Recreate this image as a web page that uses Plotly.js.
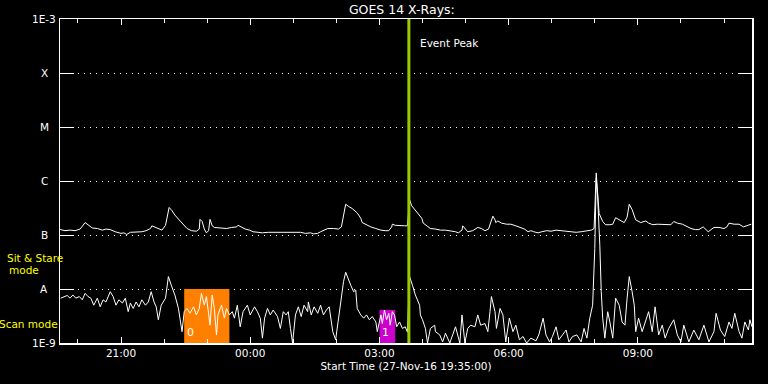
<!DOCTYPE html>
<html>
<head>
<meta charset="utf-8">
<script src="https://cdn.plot.ly/plotly-3.0.1.min.js"></script>
<style>html,body{margin:0;padding:0;background:#000;}#chart{width:768px;height:384px;}</style>
</head>
<body>
<div id="chart"></div>
<script>
// Start of the plot: 27-Nov-16 19:35:00 ; times below are minutes after start
const startTime = Date.UTC(2016, 10, 27, 19, 35, 0);
const endMinutes = 964;

// GOES 14 long channel (1-8 A), log10 of flux in W/m^2
const longT = [0,1,7,14,21,28,35,39,45,52,59,64,70,77,81,85,89,93,98,103,109,114,120,126,128,133,138,142,147,149,152,156,160,166,172,177,183,190,194,195,198,201,204,207,209,212,215,223,232,239,246,248,253,258,264,269,276,282,290,297,306,313,320,325,335,342,349,353,359,363,367,373,381,388,392,395,398,402,407,414,419,421,427,433,440,447,453,458,462,463,467,474,480,484,487,490,493,497,500,504,506,511,516,523,530,537,544,551,555,560,561,565,568,575,582,587,592,597,601,603,606,607,610,615,622,628,635,642,647,652,656,660,666,671,678,684,691,698,705,712,719,726,733,740,744,746,747,749,751,756,760,766,770,774,780,786,790,793,797,802,809,816,820,826,832,837,844,851,855,860,867,873,879,885,890,896,900,903,907,911,918,925,929,932,939,946,952,957,963];
const longLog = [-6.89,-6.90,-6.92,-6.91,-6.92,-6.89,-6.77,-6.81,-6.87,-6.88,-6.91,-6.89,-6.90,-6.94,-6.95,-6.97,-6.96,-6.99,-6.95,-6.95,-6.94,-6.94,-6.92,-6.88,-6.83,-6.86,-6.90,-6.91,-6.82,-6.67,-6.49,-6.55,-6.63,-6.72,-6.80,-6.88,-6.92,-6.93,-6.89,-6.71,-6.75,-6.89,-6.96,-6.92,-6.71,-6.83,-6.86,-6.87,-6.88,-6.86,-6.85,-6.82,-6.86,-6.89,-6.91,-6.94,-6.95,-6.96,-6.95,-6.95,-6.96,-6.95,-6.95,-6.96,-6.95,-6.97,-6.96,-6.98,-6.97,-6.94,-6.91,-6.88,-6.88,-6.89,-6.85,-6.63,-6.43,-6.47,-6.51,-6.59,-6.69,-6.77,-6.81,-6.85,-6.88,-6.91,-6.92,-6.92,-6.85,-6.80,-6.82,-6.83,-6.83,-6.83,-6.35,-6.46,-6.51,-6.57,-6.61,-6.69,-6.78,-6.83,-6.88,-6.89,-6.91,-6.91,-6.92,-6.94,-6.96,-6.91,-6.83,-6.89,-6.94,-6.92,-6.86,-6.88,-6.92,-6.89,-6.74,-6.65,-6.72,-6.77,-6.74,-6.78,-6.80,-6.80,-6.83,-6.86,-6.89,-6.94,-6.92,-6.94,-6.96,-6.94,-6.92,-6.93,-6.91,-6.92,-6.93,-6.94,-6.95,-6.94,-6.93,-6.91,-6.88,-6.35,-5.85,-6.23,-6.60,-6.75,-6.81,-6.81,-6.80,-6.68,-6.72,-6.77,-6.67,-6.43,-6.53,-6.72,-6.77,-6.74,-6.78,-6.81,-6.80,-6.80,-6.80,-6.81,-6.75,-6.78,-6.80,-6.84,-6.88,-6.90,-6.90,-6.85,-6.91,-6.94,-6.90,-6.86,-6.86,-6.88,-6.85,-6.78,-6.80,-6.80,-6.85,-6.83,-6.80];

// GOES 14 short channel (0.5-4 A), log10 of flux in W/m^2
const shortT = [1,6,10,14,18,22,27,31,35,39,43,47,52,56,60,64,70,74,78,82,87,91,95,98,102,106,110,114,119,123,127,131,134,137,141,147,151,155,160,165,167,170,173,177,181,186,190,194,197,201,204,207,209,212,215,218,220,225,229,232,236,240,243,247,251,255,261,265,271,275,279,282,285,289,293,297,303,307,311,315,318,321,324,328,332,336,340,345,346,350,354,359,363,367,371,375,380,384,387,389,392,395,398,400,405,409,412,414,419,423,427,431,435,440,442,447,449,452,455,458,460,463,466,469,473,477,481,484,487,491,495,501,502,505,509,512,516,522,523,529,533,537,543,547,551,557,560,564,568,572,578,582,586,592,596,599,601,606,608,613,617,621,626,631,635,640,645,650,656,663,667,673,677,682,686,691,695,700,705,709,714,720,726,730,734,738,742,745,747,749,751,752,754,756,759,763,766,770,774,779,783,787,790,793,797,800,802,806,811,815,820,825,829,834,839,843,848,855,860,865,869,876,883,890,897,904,911,914,920,926,932,936,940,946,950,954,959,961,964];
const shortLog = [-8.17,-8.14,-8.12,-8.17,-8.11,-8.17,-8.14,-8.20,-8.08,-8.14,-8.17,-8.30,-8.17,-8.33,-8.20,-8.24,-8.05,-8.14,-8.30,-8.20,-8.26,-8.17,-8.42,-8.26,-8.36,-8.24,-8.33,-8.20,-8.30,-8.24,-8.05,-8.24,-8.33,-8.57,-8.30,-8.17,-7.77,-7.93,-8.11,-8.36,-8.57,-8.79,-8.42,-8.36,-8.45,-8.33,-8.48,-8.36,-8.08,-8.30,-8.14,-8.42,-8.67,-8.11,-8.36,-8.85,-8.48,-8.30,-8.54,-8.36,-8.48,-8.42,-8.54,-8.30,-8.70,-8.42,-8.30,-8.48,-8.33,-8.42,-8.54,-8.91,-8.54,-8.36,-8.48,-8.39,-8.51,-8.73,-8.42,-8.48,-8.42,-8.73,-9.00,-8.48,-8.33,-8.51,-8.30,-8.42,-8.24,-8.48,-8.33,-8.45,-8.30,-8.48,-8.39,-8.33,-8.79,-8.94,-8.67,-8.42,-8.17,-7.86,-7.69,-7.77,-7.93,-8.05,-8.02,-8.36,-8.48,-8.54,-8.48,-8.57,-8.51,-8.61,-8.79,-8.48,-8.64,-8.39,-8.57,-8.45,-8.67,-8.42,-8.48,-8.70,-8.61,-8.73,-8.70,-8.80,-7.77,-7.93,-8.11,-8.30,-8.48,-8.57,-8.73,-9.00,-8.73,-8.67,-8.79,-8.85,-8.98,-8.82,-9.00,-8.85,-8.70,-9.00,-8.48,-9.00,-8.73,-8.67,-8.70,-8.48,-8.67,-8.64,-8.79,-8.42,-8.14,-8.42,-8.73,-8.36,-8.48,-8.98,-8.54,-8.79,-8.67,-8.94,-8.88,-9.00,-8.91,-8.96,-8.85,-8.54,-8.85,-8.98,-8.88,-8.70,-8.94,-8.85,-8.76,-8.98,-8.88,-8.85,-8.98,-8.73,-8.91,-8.54,-8.30,-7.25,-5.95,-6.30,-6.80,-7.19,-8.05,-8.54,-8.91,-8.42,-8.61,-8.91,-8.17,-8.30,-8.61,-8.67,-8.17,-7.77,-8.05,-8.30,-8.79,-8.54,-8.79,-8.61,-8.42,-8.79,-8.33,-8.85,-8.67,-8.91,-8.73,-8.57,-8.85,-8.98,-8.67,-8.98,-8.76,-8.94,-8.67,-8.98,-8.79,-8.45,-8.76,-8.88,-8.61,-8.73,-8.45,-8.79,-8.91,-8.61,-8.76,-8.57,-8.70];

// Observing-mode intervals (minutes after start), their top flux and labels
const modeStart = [173, 445];
const modeEnd = [236, 467];
const modeTop = [1e-8, 4.1e-9];
const modeLabel = ['0', '1'];
const modeColor = ['#ff8000', '#cc00cc'];

// Event peak (minutes after start)
const eventPeakT = 486;

// Y axis: GOES class levels
const levelVals = [1e-9, 1e-8, 1e-7, 1e-6, 1e-5, 1e-4, 1e-3];
const levelText = ['1E-9', 'A', 'B', 'C', 'M', 'X', '1E-3'];

function tStr(m) {
  return new Date(startTime + m * 60000).toISOString().replace('T', ' ').slice(0, 19);
}
const FONT = 'DejaVu Sans, sans-serif';

const traces = [];
for (let i = 0; i < modeStart.length; i++) {
  traces.push({
    x: [tStr(modeStart[i]), tStr(modeEnd[i]), tStr(modeEnd[i]), tStr(modeStart[i]), tStr(modeStart[i])],
    y: [1e-9, 1e-9, modeTop[i], modeTop[i], 1e-9],
    type: 'scatter', mode: 'lines', fill: 'toself',
    fillcolor: modeColor[i], line: {width: 0, color: modeColor[i]}, hoverinfo: 'skip'
  });
}
traces.push({
  x: longT.map(tStr), y: longLog.map(v => Math.pow(10, v)),
  type: 'scatter', mode: 'lines', line: {color: '#ffffff', width: 1}, name: 'long'
});
traces.push({
  x: shortT.map(tStr), y: shortLog.map(v => Math.pow(10, v)),
  type: 'scatter', mode: 'lines', line: {color: '#ffffff', width: 1}, name: 'short'
});
traces.push({
  x: [tStr(eventPeakT), tStr(eventPeakT)], y: [1e-9, 1e-3],
  type: 'scatter', mode: 'lines', line: {color: '#99cc00', width: 3}, name: 'Event Peak'
});

const annotations = [];
levelVals.forEach((v, i) => {
  annotations.push({
    text: levelText[i], xref: 'paper', x: -0.0231, yref: 'y', y: Math.log10(v),
    xanchor: 'center', yanchor: 'middle', showarrow: false,
    font: {family: FONT, size: 10.5, color: '#ffffff'}
  });
});
modeLabel.forEach((t, i) => {
  annotations.push({
    text: t, xref: 'x', x: tStr(modeStart[i]), yref: 'paper', y: 0.031,
    xanchor: 'left', yanchor: 'middle', xshift: 1, showarrow: false,
    font: {family: FONT, size: 11, color: '#ffffff'}
  });
});
annotations.push({
  text: 'Event Peak', xref: 'x', x: tStr(eventPeakT), yref: 'paper', y: 0.926,
  xanchor: 'left', yanchor: 'middle', xshift: 9, showarrow: false,
  font: {family: FONT, size: 10.5, color: '#ffffff'}
});
annotations.push({text: 'Sit &amp; Stare', xref: 'paper', x: -0.0368, yref: 'paper', y: 0.262,
  xanchor: 'center', yanchor: 'middle', showarrow: false, font: {family: FONT, size: 10.5, color: '#ffff00'}});
annotations.push({text: 'mode', xref: 'paper', x: -0.052, yref: 'paper', y: 0.225,
  xanchor: 'center', yanchor: 'middle', showarrow: false, font: {family: FONT, size: 10.5, color: '#ffff00'}});
annotations.push({text: 'Scan mode', xref: 'paper', x: -0.0455, yref: 'paper', y: 0.059,
  xanchor: 'center', yanchor: 'middle', showarrow: false, font: {family: FONT, size: 10.5, color: '#ffff00'}});

const layout = {
  width: 768, height: 384,
  margin: {l: 60, r: 16, t: 19, b: 41, pad: 0},
  paper_bgcolor: '#000000', plot_bgcolor: '#000000',
  showlegend: false,
  title: {text: 'GOES 14 X-Rays:', font: {family: FONT, size: 12.5, color: '#ffffff'},
          xref: 'paper', x: 0.494, xanchor: 'center', yref: 'container', y: 0.974, yanchor: 'middle'},
  xaxis: {
    type: 'date', range: [tStr(0), tStr(endMinutes)],
    tick0: '2016-11-27 21:00:00', dtick: 3 * 3600000, tickformat: '%H:%M',
    ticks: 'inside', ticklen: 6, tickwidth: 1, tickcolor: '#ffffff',
    minor: {dtick: 3600000, tick0: '2016-11-27 21:00:00', ticks: 'inside', ticklen: 4, tickwidth: 1, tickcolor: '#ffffff', showgrid: false},
    showline: true, linecolor: '#ffffff', linewidth: 1.5, mirror: 'ticks',
    showgrid: false, zeroline: false,
    tickfont: {family: FONT, size: 10.5, color: '#ffffff'},
    title: {text: 'Start Time (27-Nov-16 19:35:00)', font: {family: FONT, size: 10.5, color: '#ffffff'}, standoff: 4}
  },
  yaxis: {
    type: 'log', range: [-9, -3],
    tickvals: levelVals, showticklabels: false,
    ticks: 'inside', ticklen: 14, tickwidth: 1, tickcolor: '#ffffff',
    showline: true, linecolor: '#ffffff', linewidth: 1.5, mirror: 'ticks',
    showgrid: true, gridcolor: '#ffffff', gridwidth: 1, griddash: '1px,5px',
    zeroline: false
  },
  annotations: annotations
};

Plotly.newPlot('chart', traces, layout, {staticPlot: true, displayModeBar: false});
</script>
</body>
</html>
